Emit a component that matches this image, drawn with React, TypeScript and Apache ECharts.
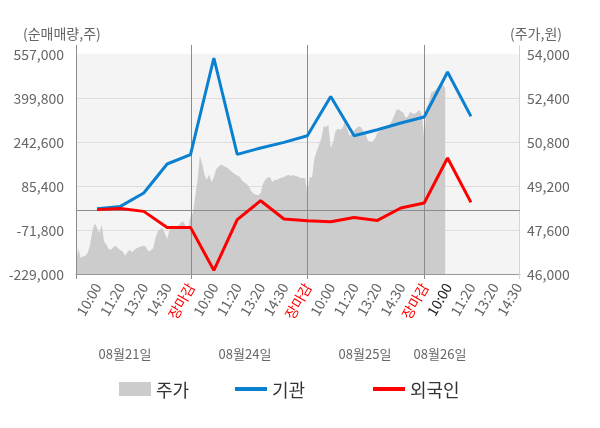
import React, { useEffect, useRef } from 'react';
import * as echarts from 'echarts';

const FONT = '"Noto Sans CJK KR", "Noto Sans", sans-serif';

// x-axis tick labels per trading day (shown every 10 points)
const slotLabels = ['10:00', '11:20', '13:20', '14:30', '장마감'];
const dayNames = ['08월21일', '08월24일', '08월25일', '08월26일'];

// 주가 (price, 원) – intraday profile, one value per axis point
const price = [
  46400, 46940, 46580, 46640, 46660, 46760, 47060, 47550, 47850, 47670,
  47490, 47790, 47190, 47060, 46910, 46880, 46980, 47030, 46940, 46860,
  46820, 46660, 46790, 46880, 46790, 46880, 46940, 46980, 47000, 47030,
  46980, 46820, 46860, 46940, 47310, 47550, 47640, 47670, 47490, 47270,
  47610, 47670, 47710, 47730, 47760, 47880, 47910, 47730, 47670,
  48100, 48200, 48800, 49430, 50300, 50000, 49600, 49430, 49620, 49340,
  49530, 49820, 49900, 49970, 49950, 49890, 49850, 49760, 49690, 49640,
  49570, 49550, 49400, 49330, 49280, 49180, 49010, 48920, 48880, 48860,
  48950, 49270, 49430, 49510, 49530, 49350, 49420, 49430, 49470, 49500,
  49530, 49580, 49600, 49570, 49600, 49560, 49550, 49490, 49490, 49490,
  48945, 49550, 49500, 50200, 50460, 50700, 50940, 51370, 51350, 51430,
  50580, 50780, 51190, 51280, 51250, 51300, 51520, 51280, 51050, 51065,
  51220, 51300, 51370, 51340, 51190, 51070, 50840, 50820, 50820, 50940,
  51150, 51190, 51250, 51250, 51310, 51400, 51550, 51720, 51950, 52000,
  51920, 51870, 51690, 51720, 51910, 51840, 51830, 51900, 51960, 51790,
  50900, 52050, 52250, 52600, 52640, 52700, 52820, 52940, 52880, 52760,
];

// 기관 / 외국인 net trades (주) at each labelled time slot
const institution = [
  4000, 12500, 60400, 164000, 197200,
  542700, 198500, 221200, 241200, 265100,
  405500, 265100, 286500, 310500, 331900,
  492700, 334000,
];
const foreign = [
  1000, 5400, -5300, -62500, -62500,
  -216000, -35000, 32900, -32500, -39000,
  -42000, -26800, -37500, 6800, 24700,
  185400, 26800,
];

const leftMin = -229000;
const leftMax = 557000;
const leftStep = 157200;
const rightMin = 46000;
const rightMax = 54000;
const rightStep = 1600;

const TOTAL = 191;
const FIRST = 9;
const STEP = 10;
const LABEL_COUNT = 19;
const dayBounds = [0, 49, 99, 149];
const highlightIdx = FIRST + STEP * 15;

export default function App() {
  const ref = useRef<HTMLDivElement>(null);
  useEffect(() => {
    const chart = echarts.init(ref.current!, null, { renderer: 'svg' });
    const categories = Array.from({ length: TOTAL }, (_, i) => String(i));
    const labelAt = new Map<number, string>();
    for (let k = 0; k < LABEL_COUNT; k++) labelAt.set(FIRST + STEP * k, slotLabels[k % slotLabels.length]);
    const lineData = (vals: number[]) =>
      categories.map((_, i) => {
        const k = (i - FIRST) / STEP;
        return Number.isInteger(k) && k >= 0 && k < vals.length ? vals[k] - leftMin : null;
      });
    const priceData = categories.map((_, i) => (i < price.length ? price[i] - rightMin : null));

    chart.setOption({
      animation: false,
      textStyle: { fontFamily: FONT },
      title: [
        { text: '(순매매량,주)', left: 18, top: 21, textStyle: { fontSize: 14, fontWeight: 'normal', color: '#666', fontFamily: FONT } },
        { text: '(주가,원)', right: 33, top: 21, textStyle: { fontSize: 14, fontWeight: 'normal', color: '#666', fontFamily: FONT } },
      ],
      grid: { left: 76, right: 80, top: 54, bottom: 154, show: true, backgroundColor: '#f4f4f4', borderWidth: 0 },
      legend: [
        { data: ['주가'], left: 114, top: 375, icon: 'rect', itemWidth: 32, itemHeight: 14, textStyle: { fontSize: 18, color: '#333', fontFamily: FONT } },
        { data: ['기관'], left: 230, top: 375, icon: 'rect', itemWidth: 32, itemHeight: 4, textStyle: { fontSize: 18, color: '#333', fontFamily: FONT } },
        { data: ['외국인'], left: 368, top: 375, icon: 'rect', itemWidth: 32, itemHeight: 4, textStyle: { fontSize: 18, color: '#333', fontFamily: FONT } },
      ],
      xAxis: {
        type: 'category',
        data: categories,
        boundaryGap: false,
        axisLine: { show: true, lineStyle: { color: '#999' } },
        axisTick: { show: false },
        splitLine: { show: false },
        axisLabel: {
          interval: (i: number) => labelAt.has(i),
          rotate: 60,
          margin: 10,
          fontSize: 14,
          color: '#666',
          fontFamily: FONT,
          formatter: (v: string) => {
            const i = Number(v);
            const t = labelAt.get(i) ?? '';
            if (t === '장마감') return `{r|${t}}`;
            if (i === highlightIdx) return `{d|${t}}`;
            return t;
          },
          rich: {
            r: { color: '#ff0000', fontSize: 14, fontFamily: FONT },
            d: { color: '#222', fontSize: 14, fontFamily: FONT },
          },
        },
      },
      yAxis: [
        {
          type: 'value',
          min: 0,
          max: leftMax - leftMin,
          interval: leftStep,
          axisLine: { show: false },
          axisTick: { show: false },
          splitLine: { show: true, showMaxLine: false, lineStyle: { color: '#dddddd' } },
          axisLabel: {
            margin: 12,
            fontSize: 14,
            color: '#666',
            fontFamily: FONT,
            formatter: (v: number) => Math.round(v + leftMin).toLocaleString('en-US'),
          },
        },
        {
          type: 'value',
          min: 0,
          max: rightMax - rightMin,
          interval: rightStep,
          position: 'right',
          axisLine: { show: false },
          axisTick: { show: false },
          splitLine: { show: false },
          axisLabel: {
            margin: 7,
            fontSize: 14,
            color: '#666',
            fontFamily: FONT,
            formatter: (v: number) => Math.round(v + rightMin).toLocaleString('en-US'),
          },
        },
      ],
      series: [
        {
          name: '주가',
          type: 'line',
          yAxisIndex: 1,
          data: priceData,
          symbol: 'none',
          z: 1,
          itemStyle: { color: '#cccccc' },
          lineStyle: { width: 0, color: '#cccccc' },
          areaStyle: { color: '#cccccc', opacity: 1 },
        },
        {
          name: '기관',
          type: 'line',
          yAxisIndex: 0,
          data: lineData(institution),
          connectNulls: true,
          symbol: 'none',
          z: 10,
          itemStyle: { color: '#0a80d0' },
          lineStyle: { width: 3, color: '#0a80d0' },
        },
        {
          name: '외국인',
          type: 'line',
          yAxisIndex: 0,
          data: lineData(foreign),
          connectNulls: true,
          symbol: 'none',
          z: 10,
          itemStyle: { color: '#ff0000' },
          lineStyle: { width: 3, color: '#ff0000' },
        },
      ],
    });

    const px = (i: number) => chart.convertToPixel({ xAxisIndex: 0 }, i) as number;
    const yTop = chart.convertToPixel({ yAxisIndex: 0 }, leftMax - leftMin) as number;
    const yBot = chart.convertToPixel({ yAxisIndex: 0 }, 0) as number;
    const yZero = chart.convertToPixel({ yAxisIndex: 0 }, -leftMin) as number;
    const xLeft = px(0);
    const xRight = px(TOTAL - 1);
    const graphics: any[] = [];
    dayBounds.forEach((i) => {
      const x = Math.round(px(i)) + 0.5;
      graphics.push({ type: 'line', silent: true, z: 3, shape: { x1: x, y1: yTop - 9, x2: x, y2: yBot + 5 }, style: { stroke: '#8c8c8c', lineWidth: 1 } });
    });
    const xr = Math.round(xRight) - 0.5;
    graphics.push({ type: 'line', silent: true, z: 3, shape: { x1: xr, y1: yTop - 9, x2: xr, y2: yBot + 5 }, style: { stroke: '#d5d5d5', lineWidth: 1 } });
    const yz = Math.round(yZero) + 0.5;
    graphics.push({ type: 'line', silent: true, z: 3, shape: { x1: xLeft, y1: yz, x2: xRight, y2: yz }, style: { stroke: '#8c8c8c', lineWidth: 1 } });
    const dayX = [125, 245, 365, 440];
    dayNames.forEach((d, k) => {
      graphics.push({ type: 'text', silent: true, x: dayX[k], y: 353, style: { text: d, fill: '#666', fontSize: 13, fontFamily: FONT, align: 'center', verticalAlign: 'middle' } });
    });
    chart.setOption({ graphic: graphics });

    return () => chart.dispose();
  }, []);
  return <div ref={ref} style={{ position: 'fixed', left: 0, top: 0, width: 600, height: 428 }} />;
}
